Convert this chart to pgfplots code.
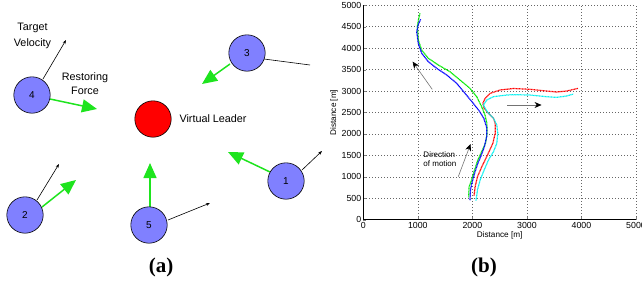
\documentclass[border=0pt]{standalone}
\usepackage{pgfplots}
\pgfplotsset{compat=1.18}
\usepackage{fontspec}
\setmainfont{Liberation Sans}
\newfontfamily\serifbold{Liberation Serif}
\usetikzlibrary{arrows.meta}
\definecolor{nodeblue}{RGB}{128,128,255}
\definecolor{fgreen}{RGB}{30,228,30}
\definecolor{trcyan}{RGB}{0,240,240}
\definecolor{trgreen}{RGB}{0,235,0}

\begin{document}
\begin{tikzpicture}
% ---------------- panel (a): diagram in pixel coordinates ----------------
\begin{axis}[at={(0pt,0pt)}, anchor=south west, scale only axis,
  width=642pt, height=284pt, xmin=0, xmax=642, ymin=0, ymax=284,
  y dir=reverse, hide axis, clip=false]
% target velocity (black)
\addplot[black, line width=0.6pt, -{Stealth[length=4pt,width=3pt]}] coordinates {(43,79) (66,40)};
\addplot[black, line width=0.6pt] coordinates {(264,59) (310,65)};
\addplot[black, line width=0.6pt, -{Stealth[length=4pt,width=3pt]}] coordinates {(302,170) (322,151)};
\addplot[black, line width=0.6pt, -{Stealth[length=4pt,width=3pt]}] coordinates {(37,200) (59,164)};
\addplot[black, line width=0.6pt, -{Stealth[length=4pt,width=3pt]}] coordinates {(168,220) (210,203)};
% restoring force (green)
\addplot[fgreen, line width=1.5pt, -{Triangle[length=15pt,width=13pt]}] coordinates {(50,99) (97,109)};
\addplot[fgreen, line width=1.5pt, -{Triangle[length=15pt,width=13pt]}] coordinates {(230,64) (202,84)};
\addplot[fgreen, line width=1.5pt, -{Triangle[length=15pt,width=13pt]}] coordinates {(270,172) (228,152)};
\addplot[fgreen, line width=1.5pt, -{Triangle[length=15pt,width=13pt]}] coordinates {(42,207) (76,180)};
\addplot[fgreen, line width=1.5pt, -{Triangle[length=15pt,width=13pt]}] coordinates {(150,207) (150,163)};
% agents
\addplot[only marks, mark=*, mark size=18.2pt, mark options={fill=nodeblue, draw=black, line width=0.6pt},
  nodes near coords, point meta=explicit symbolic,
  nodes near coords style={anchor=center, font=\fontsize{10}{12}\selectfont, text=black}]
  coordinates {(286,181) [1] (25,215) [2] (247,53) [3] (32,95) [4] (149,225) [5]};
\addplot[only marks, mark=*, mark size=18.2pt, mark options={fill=red, draw=black, line width=0.6pt}]
  coordinates {(153,119)};
\node[font=\fontsize{10.8}{14}\selectfont] at (axis cs:32.5,28.3) {Target};
\node[font=\fontsize{10.8}{14}\selectfont] at (axis cs:32.5,43.3) {Velocity};
\node[font=\fontsize{10.8}{14}\selectfont] at (axis cs:85,77.3) {Restoring};
\node[font=\fontsize{10.8}{14}\selectfont] at (axis cs:85,91) {Force};
\node[font=\fontsize{10.8}{14}\selectfont, anchor=west, inner sep=0pt] at (axis cs:179.3,118.7) {Virtual Leader};
\node[font=\serifbold\bfseries\fontsize{21}{24}\selectfont] at (axis cs:161,267) {(a)};
\node[font=\serifbold\bfseries\fontsize{21}{24}\selectfont] at (axis cs:484,267) {(b)};
\end{axis}
% ---------------- panel (b): trajectories ----------------
\begin{axis}[at={(363.3pt,64.3pt)}, anchor=south west, scale only axis,
  width=272.7pt, height=214.4pt,
  xmin=0, xmax=5000, ymin=0, ymax=5000,
  xtick={0,1000,...,5000}, ytick={0,500,...,5000},
  scaled ticks=false,
  /pgf/number format/1000 sep={},
  /pgf/number format/assume math mode=true,
  axis x line*=bottom, axis y line*=left, axis line style={-, line width=0.6pt},
  tick align=inside, major tick length=2.5pt,
  grid=major, major grid style={black!60, line width=0.5pt, dash pattern=on 0.6pt off 2.4pt},
  tick label style={font=\fontsize{8.8}{10}\selectfont},
  label style={font=\fontsize{8.2}{10}\selectfont},
  xticklabel style={yshift=1pt},
  yticklabel style={xshift=1.5pt},
  xlabel={Distance [m]}, ylabel={Distance [m]},
  xlabel style={yshift=4pt}, ylabel style={yshift=-3pt},
  clip=false]
\addplot[trgreen, line width=1.2pt, dash pattern=on 1pt off 0.5pt] coordinates {
(1039,4813) (1010,4660) (990,4501) (1008,4191) (1070,3957) (1192,3764) (1375,3608)
(1589,3451) (1773,3258) (1956,3064) (2079,2868) (2170,2635) (2230,2450) (2265,2250)
(2270,2014) (2240,1781) (2170,1586) (2100,1392) (2040,1159) (1985,925) (1940,770) (1930,520)};
\addplot[blue, line width=1.2pt, dash pattern=on 1pt off 0.5pt] coordinates {
(1052,4673) (1010,4560) (979,4384) (1008,4113) (1070,3880) (1192,3685) (1345,3530)
(1529,3375) (1712,3181) (1864,2948) (2016,2714) (2130,2530) (2210,2364) (2262,2150)
(2262,1936) (2220,1703) (2165,1509) (2100,1314) (2040,1081) (1990,848) (1965,692) (1955,445)};
\addplot[red, line width=1.2pt, dash pattern=on 1pt off 0.5pt] coordinates {
(2030,560) (2051,770) (2093,1003) (2173,1236) (2277,1509) (2375,1781) (2418,2014)
(2418,2247) (2387,2364) (2295,2481) (2216,2597) (2191,2714) (2234,2830) (2326,2947)
(2509,3025) (2750,3060) (3055,3041) (3361,3001) (3544,2978) (3728,3001) (3941,3064)};
\addplot[trcyan, line width=1.2pt, dash pattern=on 1pt off 0.5pt] coordinates {
(2066,445) (2093,692) (2142,925) (2216,1159) (2295,1392) (2387,1586) (2448,1781)
(2466,2014) (2448,2208) (2387,2364) (2295,2481) (2234,2597) (2203,2675) (2265,2792)
(2387,2869) (2631,2908) (2750,2915) (3055,2908) (3361,2868) (3544,2853) (3728,2884) (3850,2931)};
% annotation arrows
\addplot[black!55, line width=0.6pt, -{Stealth[black, length=7pt, width=6pt]}] coordinates {(1264,3040) (904,3686)};
\addplot[black!55, line width=0.6pt, -{Stealth[black, length=7pt, width=6pt]}] coordinates {(2639,2675) (3268,2675)};
\addplot[black!55, line width=0.6pt, -{Stealth[black, length=7pt, width=6pt]}] coordinates {(1741,1003) (1967,1765)};
\node[font=\fontsize{8}{9}\selectfont, anchor=west, align=left, inner sep=0pt] at (axis cs:1100,1420) {Direction\\of motion};
\end{axis}
\pgfresetboundingbox
\path[use as bounding box] (0pt,0pt) rectangle (642pt,284pt);
\end{tikzpicture}
\end{document}
